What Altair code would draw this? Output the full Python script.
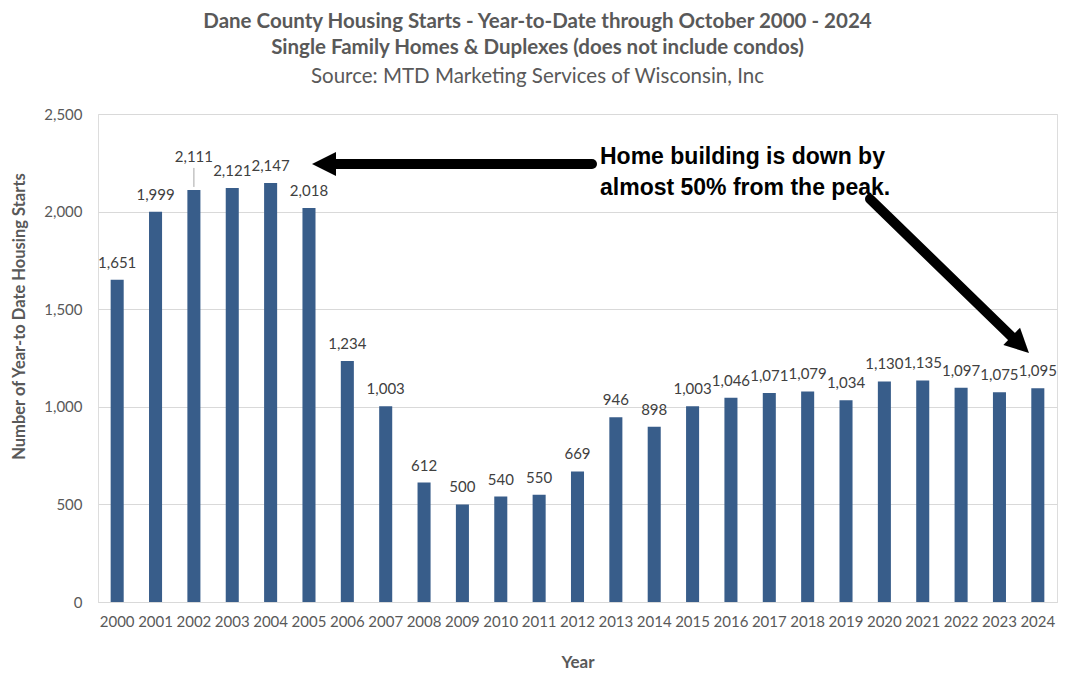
import altair as alt
import pandas as pd

years = [str(y) for y in range(2000, 2025)]
starts = [1651, 1999, 2111, 2121, 2147, 2018, 1234, 1003, 612, 500, 540, 550, 669,
          946, 898, 1003, 1046, 1071, 1079, 1034, 1130, 1135, 1097, 1075, 1095]
y_ticks = [0, 500, 1000, 1500, 2000, 2500]
title_lines = ["Dane County Housing Starts - Year-to-Date through October 2000 - 2024",
               "Single Family Homes & Duplexes (does not include condos)"]
subtitle = "Source: MTD Marketing Services of Wisconsin, Inc"
note_lines = ["Home building is down by", "almost 50% from the peak."]

df = pd.DataFrame({"Year": years, "Starts": starts})
one = pd.DataFrame({"k": [0]})

FONT = "Lato"
GRAY = "#595959"
BAR = "#385d8a"

x = alt.X("Year:N", title="Year", sort=None,
          scale=alt.Scale(paddingInner=0.66, paddingOuter=0.33),
          axis=alt.Axis(labelAngle=0, labelFontSize=15, labelColor=GRAY, labelFont=FONT,
                        ticks=False, labelPadding=12, domainColor="#d9d9d9",
                        titleFontSize=17, titleColor=GRAY, titleFont=FONT,
                        titleFontWeight="bold", titlePadding=25))
y = alt.Y("Starts:Q", title="Number of Year-to Date Housing Starts",
          scale=alt.Scale(domain=[0, 2500], nice=False),
          axis=alt.Axis(values=y_ticks, format=",d", labelFontSize=15, labelColor=GRAY,
                        labelFont=FONT, ticks=False, domain=False, labelPadding=16,
                        gridColor="#d9d9d9", titleFontSize=16.5, titleColor=GRAY,
                        titleFont=FONT, titleFontWeight="bold", titlePadding=16,
                        titleY=202))

base = alt.Chart(df)
bars = base.mark_bar(color=BAR).encode(x=x, y=y)
labels = base.transform_filter(alt.datum.Year != "2002").mark_text(
    baseline="bottom", dy=-9, fontSize=15, font=FONT, color="#404040"
).encode(x="Year:N", y="Starts:Q", text=alt.Text("Starts:Q", format=","))
label_hi = base.transform_filter(alt.datum.Year == "2002").mark_text(
    baseline="bottom", dy=-25, fontSize=15, font=FONT, color="#404040"
).encode(x="Year:N", y="Starts:Q", text=alt.Text("Starts:Q", format=","))
leader = base.transform_filter(alt.datum.Year == "2002").mark_rule(
    color="#a6a6a6", strokeWidth=1, yOffset=-3, y2Offset=-22
).encode(x="Year:N", y="Starts:Q", y2="Starts:Q")

ann = alt.Chart(one)
HEAD = "M-1,0L0,-0.5L0,0.5Z"
arrow1_line = ann.mark_rule(color="black", strokeWidth=10, strokeCap="round").encode(
    x=alt.value(236), x2=alt.value(494), y=alt.value(50), y2=alt.value(50))
arrow1_head = ann.mark_point(shape=HEAD, filled=True, color="black", opacity=1,
                             size=2304, strokeWidth=0).encode(
    x=alt.value(238), y=alt.value(50))
arrow2_line = ann.mark_rule(color="black", strokeWidth=10, strokeCap="round").encode(
    x=alt.value(772), x2=alt.value(914), y=alt.value(85), y2=alt.value(223))
arrow2_head = ann.mark_point(shape=HEAD, filled=True, color="black", opacity=1,
                             size=2304, strokeWidth=0, angle=224).encode(
    x=alt.value(913.7), y=alt.value(222.3))
note1 = ann.mark_text(text=note_lines[0], align="left", baseline="middle",
                      font="Liberation Sans", fontWeight="bold", fontSize=23,
                      color="black").encode(x=alt.value(502), y=alt.value(43))
note2 = ann.mark_text(text=note_lines[1], align="left", baseline="middle",
                      font="Liberation Sans", fontWeight="bold", fontSize=23,
                      color="black").encode(x=alt.value(502), y=alt.value(74))

chart = alt.layer(bars, labels, label_hi, leader, arrow1_line, arrow1_head,
                  arrow2_line, arrow2_head, note1, note2).properties(
    width=959, height=488,
    autosize=alt.AutoSizeParams(type="none"),
    padding={"left": 90, "top": 106, "right": 5, "bottom": 70},
    title=alt.TitleParams(text=title_lines, subtitle=subtitle, anchor="middle",
                          dx=-40, font=FONT, fontSize=20.5, fontWeight="bold",
                          color=GRAY, lineHeight=26, subtitleFont=FONT,
                          subtitleFontSize=20.5, subtitleColor=GRAY,
                          subtitlePadding=8, offset=20),
).configure_view(stroke=None).configure(background="white")

chart.save("out.html", embed_options={"renderer": "svg", "actions": False})
